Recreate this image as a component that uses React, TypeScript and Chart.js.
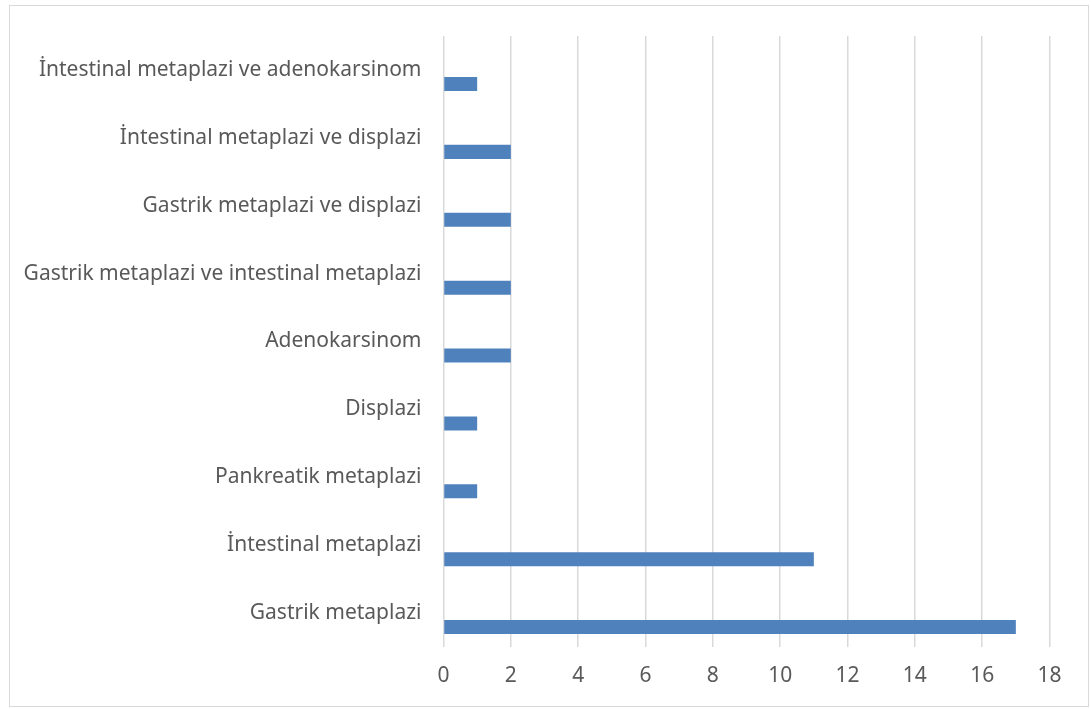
import React, { useEffect, useRef } from "react";
import { Chart, registerables } from "chart.js";

Chart.register(...registerables);

// Categories listed from top to bottom as they appear on the chart
const categories: string[] = [
  "İntestinal metaplazi ve adenokarsinom",
  "İntestinal metaplazi ve displazi",
  "Gastrik metaplazi ve displazi",
  "Gastrik metaplazi ve intestinal metaplazi",
  "Adenokarsinom",
  "Displazi",
  "Pankreatik metaplazi",
  "İntestinal metaplazi",
  "Gastrik metaplazi",
];

const counts: number[] = [1, 2, 2, 2, 2, 1, 1, 11, 17];

// Two empty series keep the visible bars in the lower slot of each row
const emptySeries: (number | null)[] = categories.map(() => null);

const xMin = 0;
const xMax = 18;
const xStep = 2;

const BAR_COLOR = "#4f81bd";
const GRID_COLOR = "#d9d9d9";
const TEXT_COLOR = "#595959";
const FONT_FAMILY = "'Noto Sans', Lato, sans-serif";

export default function App() {
  const canvasRef = useRef<HTMLCanvasElement | null>(null);

  useEffect(() => {
    document.body.style.margin = "0";
    const canvas = canvasRef.current;
    if (!canvas) return;
    const chart = new Chart(canvas, {
      type: "bar",
      data: {
        labels: categories,
        datasets: [
          { label: "a", data: emptySeries, backgroundColor: BAR_COLOR },
          { label: "b", data: emptySeries, backgroundColor: BAR_COLOR },
          { label: "Sayı", data: counts, backgroundColor: BAR_COLOR },
        ],
      },
      options: {
        indexAxis: "y",
        animation: false,
        responsive: false,
        maintainAspectRatio: false,
        layout: { padding: { left: 0, top: 36, right: 41.5, bottom: 0 } },
        datasets: {
          bar: { categoryPercentage: 0.62, barPercentage: 1 },
        },
        plugins: {
          legend: { display: false },
          tooltip: { enabled: false },
        },
        scales: {
          x: {
            min: xMin,
            max: xMax,
            ticks: {
              stepSize: xStep,
              color: TEXT_COLOR,
              font: { family: FONT_FAMILY, size: 21 },
              padding: 16,
            },
            grid: {
              color: GRID_COLOR,
              lineWidth: 1.5,
              drawTicks: false,
            },
            border: { display: false },
            afterFit: (scale: any) => {
              scale.height = 62;
            },
          },
          y: {
            ticks: {
              color: TEXT_COLOR,
              font: { family: FONT_FAMILY, size: 21 },
              padding: 22,
            },
            grid: { display: false, drawTicks: false },
            border: { display: false },
            afterFit: (scale: any) => {
              scale.width = 443.5;
            },
          },
        },
      },
    });
    return () => chart.destroy();
  }, []);

  return (
    <div style={{ position: "relative", width: 1091, height: 709, background: "#fff" }}>
      <canvas
        ref={canvasRef}
        width={1091}
        height={709}
        style={{ position: "absolute", left: 0, top: 0 }}
      />
      <div
        style={{
          position: "absolute",
          left: 9,
          top: 5,
          width: 1080,
          height: 702,
          border: `1px solid ${GRID_COLOR}`,
          boxSizing: "border-box",
          pointerEvents: "none",
        }}
      />
    </div>
  );
}
